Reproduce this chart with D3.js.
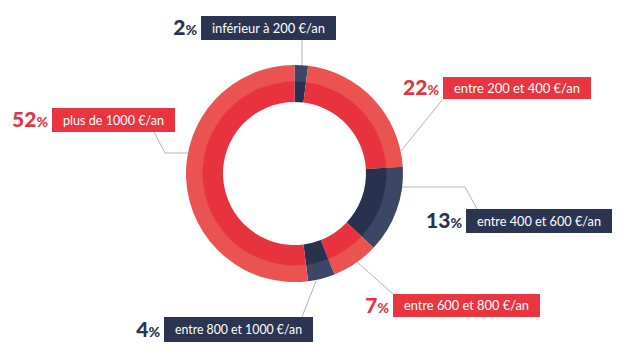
<!DOCTYPE html>
<html>
<head>
<meta charset="utf-8">
<script src="https://cdn.jsdelivr.net/npm/d3@7"></script>
<style>
  body { margin: 0; background: #fff; }
  text { font-family: "Lato", "Noto Sans", sans-serif; }
</style>
</head>
<body>
<div id="chart"></div>
<script>
// budget categories, clockwise from the top
var categories = ["inférieur à 200 €/an", "entre 200 et 400 €/an", "entre 400 et 600 €/an",
                  "entre 600 et 800 €/an", "entre 800 et 1000 €/an", "plus de 1000 €/an"];
var values = [2, 22, 13, 7, 4, 52];

// where each label box sits, and the leader line points (ring -> box)
var boxes = [
  { x: 201, y: 16, w: 135, h: 24, line: [[302, 66], [302, 40]] },
  { x: 443, y: 77, w: 148, h: 22, line: [[401, 151], [443, 99]] },
  { x: 466, y: 209, w: 146, h: 24, line: [[402, 187], [465, 187], [477, 209]] },
  { x: 393, y: 294, w: 147, h: 23, line: [[357, 262], [393, 294]] },
  { x: 164, y: 317, w: 149, h: 25, line: [[316, 281], [302, 317]] },
  { x: 52, y: 108, w: 123, h: 24, line: [[188, 153], [165, 153], [154, 132]] }
];

var width = 624, height = 360;
var cx = 294.5, cy = 173.5;

var red = { inner: "#e8333f", outer: "#ea5350", box: "#e8353f", pct: "#e23541" };
var navy = { inner: "#28324f", outer: "#3c4665", box: "#2b3451", pct: "#2a3350" };
function pal(i) { return i % 2 == 0 ? navy : red; }

var svg = d3.select("#chart").append("svg")
  .attr("width", width)
  .attr("height", height);

// leader lines first so the ring covers their ends
boxes.forEach(function(b) {
  svg.append("path")
    .attr("d", d3.line()(b.line))
    .attr("fill", "none")
    .attr("stroke", "#b3b3b3")
    .attr("stroke-width", 1);
});

var pie = d3.pie().sort(null).value(function(d) { return d; });
var slices = pie(values);

var innerArc = d3.arc().innerRadius(71.5).outerRadius(92);
var outerArc = d3.arc().innerRadius(91.5).outerRadius(108.5);

var ring = svg.append("g").attr("transform", "translate(" + cx + "," + cy + ")");
ring.selectAll("path.outer")
  .data(slices)
  .enter().append("path")
  .attr("class", "outer")
  .attr("d", outerArc)
  .attr("fill", function(d, i) { return pal(i).outer; });
ring.selectAll("path.inner")
  .data(slices)
  .enter().append("path")
  .attr("class", "inner")
  .attr("d", innerArc)
  .attr("fill", function(d, i) { return pal(i).inner; });

// label boxes
var labels = svg.selectAll("g.label")
  .data(categories)
  .enter().append("g")
  .attr("class", "label");

labels.append("rect")
  .attr("x", function(d, i) { return boxes[i].x; })
  .attr("y", function(d, i) { return boxes[i].y; })
  .attr("width", function(d, i) { return boxes[i].w; })
  .attr("height", function(d, i) { return boxes[i].h; })
  .attr("fill", function(d, i) { return pal(i).box; });

labels.append("text")
  .attr("x", function(d, i) { return boxes[i].x + boxes[i].w / 2; })
  .attr("y", function(d, i) { return boxes[i].y + boxes[i].h / 2 + 4.5; })
  .attr("text-anchor", "middle")
  .attr("fill", "#fff")
  .style("font-size", "13px")
  .text(function(d) { return d; })
  .each(function(d, i) {
    // squeeze to the box width of the original
    var target = boxes[i].w - 22;
    var len = this.getComputedTextLength();
    if (len > target) d3.select(this).attr("textLength", target).attr("lengthAdjust", "spacingAndGlyphs");
  });

var pct = labels.append("text")
  .attr("x", function(d, i) { return boxes[i].x - 4; })
  .attr("y", function(d, i) { return boxes[i].y + boxes[i].h / 2 + 7; })
  .attr("text-anchor", "end")
  .attr("fill", function(d, i) { return pal(i).pct; })
  .style("font-weight", 900);
pct.append("tspan")
  .style("font-size", "21px")
  .text(function(d, i) { return values[i]; });
pct.append("tspan")
  .style("font-size", "14px")
  .text("%");
</script>
</body>
</html>
